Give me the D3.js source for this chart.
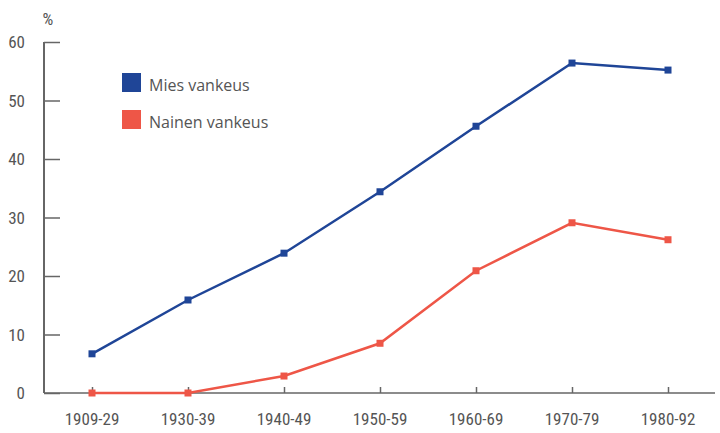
<!DOCTYPE html>
<html>
<head>
<meta charset="utf-8">
<script src="https://cdn.jsdelivr.net/npm/d3@7"></script>
<style>
  body { margin: 0; background: #fff; }
  text { fill: #555; }
</style>
</head>
<body>
<div id="chart"></div>
<script>
const periods = ['1909-29', '1930-39', '1940-49', '1950-59', '1960-69', '1970-79', '1980-92'];
const miesValues = [6.7, 15.9, 23.9, 34.4, 45.6, 56.4, 55.2];
const nainenValues = [0, 0, 2.9, 8.5, 20.9, 29.1, 26.2];
const yTicks = [0, 10, 20, 30, 40, 50, 60];
const seriesNames = ['Mies vankeus', 'Nainen vankeus'];
const seriesColors = ['#1f4597', '#ee5647'];

const W = 720, H = 433;
const padL = 44, padT = 42, padB = 393, padR = 715;
const condensed = '"Liberation Sans Narrow", "Roboto Condensed", "Arial Narrow", sans-serif';

const svg = d3.select('#chart').append('svg').attr('width', W).attr('height', H);

const x = d3.scalePoint().domain(periods).range([92, 668]);
const y = d3.scaleLinear().domain([0, 60]).range([padB, padT]);

// y axis
const yAxis = svg.append('g').attr('transform', `translate(${padL},0)`)
  .call(d3.axisRight(y).tickValues(yTicks).tickSize(16).tickFormat(''));
yAxis.select('.domain').remove();
yAxis.selectAll('line').attr('stroke', '#666').attr('stroke-width', 1.5);
svg.append('line').attr('x1', padL).attr('x2', padL).attr('y1', padT).attr('y2', padB)
  .attr('stroke', '#666').attr('stroke-width', 2);
svg.selectAll('.ylab').data(yTicks).enter().append('text')
  .attr('x', 25).attr('y', d => y(d) + 6).attr('text-anchor', 'end')
  .style('font-family', condensed).style('font-size', '17px').text(d => d);
svg.append('text').attr('x', 48).attr('y', 25).attr('text-anchor', 'middle')
  .style('font-family', condensed).style('font-size', '17px').text('%');

// x axis
svg.append('line').attr('x1', padL).attr('x2', padR).attr('y1', padB).attr('y2', padB)
  .attr('stroke', '#666').attr('stroke-width', 1.5);
const xAxis = svg.append('g').attr('transform', `translate(0,${padB})`)
  .call(d3.axisTop(x).tickSize(6).tickFormat(''));
xAxis.select('.domain').remove();
xAxis.selectAll('line').attr('stroke', '#666').attr('stroke-width', 1.5);
svg.selectAll('.xlab').data(periods).enter().append('text')
  .attr('x', d => x(d)).attr('y', 425).attr('text-anchor', 'middle')
  .style('font-family', condensed).style('font-size', '17px').text(d => d);

// lines
const line = d3.line().x((d, i) => x(periods[i])).y(d => y(d));
[miesValues, nainenValues].forEach((vals, k) => {
  svg.append('path').datum(vals).attr('d', line).attr('fill', 'none')
    .attr('stroke', seriesColors[k]).attr('stroke-width', 2.5);
  svg.selectAll('.m' + k).data(vals).enter().append('rect')
    .attr('x', (d, i) => x(periods[i]) - 3.5).attr('y', d => y(d) - 3.5)
    .attr('width', 7).attr('height', 7).attr('fill', seriesColors[k]);
});

// legend
seriesNames.forEach((name, k) => {
  svg.append('rect').attr('x', 122).attr('y', 73 + k * 37).attr('width', 19).attr('height', 19)
    .attr('fill', seriesColors[k]);
  svg.append('text').attr('x', 149).attr('y', 91 + k * 37)
    .style('font-family', '"Open Sans", sans-serif').style('font-size', '16px').text(name);
});
</script>
</body>
</html>
